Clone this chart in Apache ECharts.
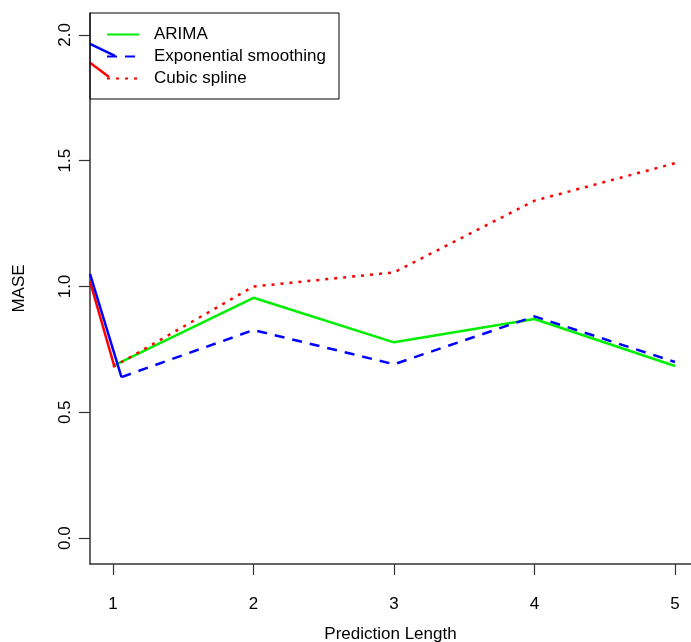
<!DOCTYPE html>
<html>
<head>
<meta charset="utf-8">
<script src="https://cdn.jsdelivr.net/npm/echarts@6/dist/echarts.min.js"></script>
<style>
  html, body { margin: 0; padding: 0; background: #ffffff; }
  #chart { width: 691px; height: 642px; }
</style>
</head>
<body>
<div id="chart"></div>
<script>
// ---- data ----
const seriesNames = ["ARIMA", "Exponential smoothing", "Cubic spline"];
const xTicks = [1, 2, 3, 4, 5];
const yTicks = [0, 0.5, 1, 1.5, 2];
const arimaData = [[1, 0.684], [2, 0.955], [3, 0.778], [4, 0.871], [5, 0.684]];
const expSmoothData = [[1.06, 0.64], [2, 0.827], [3, 0.691], [4, 0.881], [5, 0.70]];
const splineData = [[1, 0.68], [2, 1.0], [3, 1.056], [4, 1.341], [5, 1.49]];
// stray solid segments visible in the original at the left edge
const strayBlueLow = [[0.836, 1.05], [1.06, 0.64]];
const strayRedLow = [[0.836, 1.02], [1.01, 0.681]];
const strayBlueTop = [[0.836, 1.964], [1.014, 1.917]];
const strayRedTop = [[0.836, 1.889], [0.972, 1.833]];
const xRange = [0.836, 5.114];
const yRange = [-0.103, 2.087];

const FONT = "Liberation Sans, Arial, Helvetica, sans-serif";
const axisColor = "#333333";

const chart = echarts.init(document.getElementById("chart"), null, { renderer: "canvas" });

function stray(data, color) {
  return {
    type: "line", data: data, symbol: "none", silent: true,
    lineStyle: { color: color, width: 2.5, type: "solid" },
    z: 3
  };
}

chart.setOption({
  animation: false,
  backgroundColor: "#ffffff",
  grid: { left: 90, right: 0, top: 13, bottom: 78, containLabel: false, outerBoundsMode: "none" },
  legend: {
    orient: "vertical",
    left: 90, top: 13,
    data: seriesNames,
    borderColor: "#000000", borderWidth: 1, borderRadius: 0,
    padding: [13, 13, 12, 16],
    itemGap: 5, itemWidth: 32, itemHeight: 14,
    itemStyle: { opacity: 0 },
    textStyle: { fontFamily: FONT, fontSize: 17, color: "#000000", padding: [0, 0, 0, 10] },
    selectedMode: false
  },
  xAxis: {
    type: "value", min: xRange[0], max: xRange[1],
    name: "Prediction Length", nameLocation: "middle", nameGap: 62,
    nameTextStyle: { fontFamily: FONT, fontSize: 17, color: "#000000" },
    axisLine: { show: true, onZero: false, lineStyle: { color: axisColor, width: 1.5 } },
    axisTick: { show: true, length: 11, customValues: xTicks, lineStyle: { color: axisColor, width: 1.2 } },
    axisLabel: { customValues: xTicks, margin: 32, fontFamily: FONT, fontSize: 17, color: "#000000",
                 formatter: v => String(v) },
    splitLine: { show: false }
  },
  yAxis: {
    type: "value", min: yRange[0], max: yRange[1],
    name: "MASE", nameLocation: "middle", nameGap: 62, nameRotate: 90,
    nameTextStyle: { fontFamily: FONT, fontSize: 17, color: "#000000" },
    axisLine: { show: true, onZero: false, lineStyle: { color: axisColor, width: 1.5 } },
    axisTick: { show: true, length: 11, customValues: yTicks, lineStyle: { color: axisColor, width: 1.2 } },
    axisLabel: { customValues: yTicks, rotate: 90, margin: 16, fontFamily: FONT, fontSize: 17, color: "#000000",
                 formatter: v => v.toFixed(1) },
    splitLine: { show: false }
  },
  series: [
    { name: seriesNames[0], type: "line", data: arimaData, symbol: "none",
      lineStyle: { color: "#00ee00", width: 2.5, type: "solid" }, itemStyle: { color: "#00ee00" }, z: 2 },
    { name: seriesNames[1], type: "line", data: expSmoothData, symbol: "none",
      lineStyle: { color: "#0000ff", width: 2.5, type: [10, 8] }, itemStyle: { color: "#0000ff" }, z: 4 },
    { name: seriesNames[2], type: "line", data: splineData, symbol: "none",
      lineStyle: { color: "#ff0000", width: 2.5, type: [3, 6] }, itemStyle: { color: "#ff0000" }, z: 3 },
    stray(strayRedLow, "#ff0000"),
    stray(strayBlueLow, "#0000ff"),
    stray(strayRedTop, "#ff0000"),
    stray(strayBlueTop, "#0000ff")
  ]
});
</script>
</body>
</html>
